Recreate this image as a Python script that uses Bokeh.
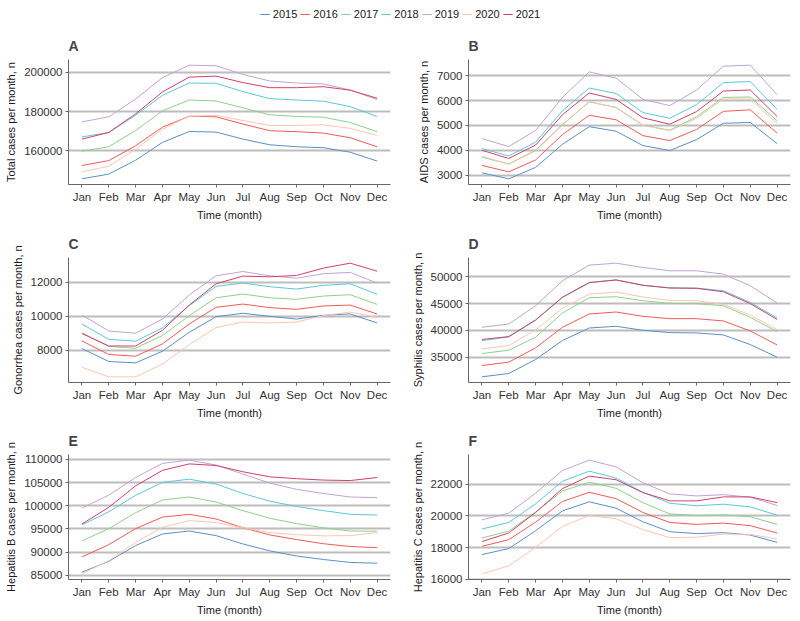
from bokeh.plotting import figure
from bokeh.models import Range1d, FactorRange, FixedTicker, BasicTickFormatter, Legend
from bokeh.layouts import column, row
from bokeh.embed import file_html
from bokeh.resources import INLINE
import numpy as np

months = ["Jan", "Feb", "Mar", "Apr", "May", "Jun", "Jul", "Aug", "Sep", "Oct", "Nov", "Dec"]
years = ["2015", "2016", "2017", "2018", "2019", "2020", "2021"]
colors = ["#5b8fc7", "#f25a55", "#8ed18a", "#5bc8d8", "#c3a3d3", "#fbc5b3", "#d2406a"]

total_cases = {
    "2015": [145600, 148000, 155100, 164200, 169800, 169500, 165900, 163000, 162000, 161500, 159200, 154700],
    "2016": [152400, 154900, 162500, 172000, 177600, 177300, 173600, 170200, 169700, 169000, 166600, 162000],
    "2017": [159700, 162000, 170300, 180300, 185900, 185400, 181900, 178300, 177500, 177100, 174400, 169700],
    "2018": [167000, 169300, 178100, 188300, 194600, 194400, 190200, 186600, 185900, 185300, 182500, 177500],
    "2019": [174700, 177300, 186400, 197300, 203700, 203400, 199000, 195600, 194600, 194100, 191000, 186100],
    "2020": [149200, 152000, 160700, 171000, 177600, 178000, 175400, 172900, 172900, 173200, 171400, 167800],
    "2021": [165900, 169300, 178800, 190000, 197600, 198100, 194800, 192200, 192200, 192700, 190900, 186800],
}
aids_cases = {
    "2015": [3090, 2850, 3310, 4240, 4950, 4770, 4190, 3990, 4430, 5090, 5120, 4270],
    "2016": [3390, 3130, 3610, 4630, 5410, 5230, 4590, 4390, 4840, 5570, 5630, 4690],
    "2017": [3720, 3450, 4000, 5040, 5950, 5730, 5010, 4810, 5350, 6130, 6150, 5190],
    "2018": [4070, 3770, 4330, 5590, 6510, 6290, 5520, 5290, 5840, 6730, 6770, 5650],
    "2019": [4470, 4150, 4800, 6130, 7160, 6910, 6050, 5800, 6430, 7390, 7430, 6240],
    "2020": [3760, 3440, 3970, 5010, 5970, 5710, 5000, 4790, 5290, 6070, 6070, 5090],
    "2021": [4000, 3670, 4210, 5430, 6310, 6050, 5310, 5050, 5560, 6390, 6430, 5360],
}
gonorrhea_cases = {
    "2015": [8100, 7340, 7260, 7940, 9050, 9970, 10170, 9990, 9830, 10050, 10130, 9600],
    "2016": [8550, 7750, 7650, 8370, 9540, 10520, 10710, 10500, 10400, 10600, 10650, 10130],
    "2017": [9030, 8220, 8120, 8860, 10030, 11080, 11300, 11080, 10990, 11180, 11260, 10690],
    "2018": [9540, 8640, 8530, 9310, 10620, 11750, 11940, 11730, 11590, 11810, 11900, 11280],
    "2019": [10070, 9130, 9000, 9830, 11240, 12370, 12620, 12370, 12230, 12490, 12570, 11940],
    "2020": [7000, 6440, 6440, 7180, 8330, 9330, 9660, 9600, 9660, 10030, 10240, 9930],
    "2021": [8980, 8250, 8250, 9170, 10650, 11900, 12350, 12310, 12390, 12820, 13110, 12640],
}
syphilis_cases = {
    "2015": [31340, 31960, 34570, 38100, 40450, 40770, 40020, 39590, 39530, 39150, 37360, 35000],
    "2016": [33450, 34070, 36740, 40580, 43060, 43430, 42620, 42190, 42190, 41760, 39900, 37290],
    "2017": [35680, 36300, 38720, 43240, 46100, 46280, 45540, 45040, 44980, 44610, 42440, 39770],
    "2018": [38100, 38780, 41880, 46220, 48950, 49440, 48450, 47950, 47890, 47400, 45230, 42310],
    "2019": [40580, 41200, 44600, 49260, 52170, 52540, 51740, 51120, 51120, 50500, 48330, 45100],
    "2020": [36550, 37170, 40080, 44110, 46780, 47150, 46220, 45600, 45540, 44860, 42870, 40140],
    "2021": [38300, 38850, 41950, 46150, 48900, 49400, 48400, 47900, 47850, 47200, 45000, 42050],
}
hepb_cases = {
    "2015": [85650, 88000, 91400, 93900, 94550, 93550, 91750, 90250, 89150, 88400, 87750, 87600],
    "2016": [88950, 91600, 95050, 97550, 98150, 97150, 95250, 93700, 92700, 91800, 91200, 90950],
    "2017": [92400, 95050, 98500, 101250, 101900, 100800, 98950, 97300, 96150, 95250, 94550, 94500],
    "2018": [95850, 98700, 102250, 105050, 105750, 104700, 102650, 101000, 99850, 98950, 98150, 98000],
    "2019": [99500, 102300, 106100, 109150, 109850, 108800, 106850, 104900, 103550, 102650, 101900, 101750],
    "2020": [85300, 88150, 92100, 95350, 96800, 96350, 95250, 94200, 93750, 93500, 93550, 94200],
    "2021": [96050, 99650, 104300, 107650, 109050, 108700, 107350, 106250, 105850, 105550, 105450, 106100],
}
hepc_cases = {
    "2015": [17560, 17940, 19060, 20310, 20880, 20480, 19620, 19000, 18880, 18940, 18790, 18330],
    "2016": [18080, 18500, 19600, 20900, 21480, 21080, 20210, 19580, 19460, 19540, 19380, 18920],
    "2017": [18600, 19040, 20230, 21560, 22120, 21730, 20830, 20120, 20020, 20060, 19940, 19460],
    "2018": [19170, 19580, 20750, 22170, 22810, 22380, 21480, 20790, 20630, 20730, 20560, 20040],
    "2019": [19750, 20170, 21420, 22850, 23500, 23080, 22080, 21380, 21250, 21330, 21170, 20650],
    "2020": [16350, 16850, 18020, 19330, 20020, 19810, 19130, 18630, 18650, 18850, 18830, 18540],
    "2021": [18380, 18920, 20210, 21710, 22500, 22270, 21460, 20940, 20940, 21190, 21190, 20830],
}

ticks_total = [160000, 180000, 200000]
ticks_aids = [3000, 4000, 5000, 6000, 7000]
ticks_gonorrhea = [8000, 10000, 12000]
ticks_syphilis = [35000, 40000, 45000, 50000]
ticks_hepb = [85000, 90000, 95000, 100000, 105000, 110000]
ticks_hepc = [16000, 18000, 20000, 22000]

FONT = "Liberation Sans"


def make_panel(letter, ylabel, series, ticks, top, bottom):
    vals = np.array([series[y] for y in years], dtype=float)
    lo, hi = vals.min(), vals.max()
    pad = (hi - lo) * 0.05
    p = figure(x_range=FactorRange(*months), y_range=Range1d(lo - pad, hi + pad),
               width=400, height=top + 125 + bottom, output_backend="svg", toolbar_location=None,
               min_border_left=68, min_border_right=10, min_border_top=top,
               min_border_bottom=bottom, title=letter)
    for yr, col in zip(years, colors):
        p.line(months, series[yr], line_color=col, line_width=1)
    p.outline_line_color = None
    p.background_fill_color = "white"
    p.xgrid.visible = False
    p.yaxis.ticker = FixedTicker(ticks=ticks)
    p.ygrid.ticker = FixedTicker(ticks=ticks)
    p.ygrid.grid_line_color = "#bdbdbd"
    p.ygrid.grid_line_width = 2
    p.yaxis.formatter = BasicTickFormatter(use_scientific=False)
    for ax in (p.xaxis[0], p.yaxis[0]):
        ax.axis_line_color = "#666666"
        ax.major_tick_line_color = "#666666"
        ax.major_tick_out = 3
        ax.major_tick_in = 0
        ax.minor_tick_line_color = None
        ax.major_label_text_font = FONT
        ax.major_label_text_font_size = "11.5px"
        ax.major_label_text_color = "#333333"
        ax.axis_label_text_font = FONT
        ax.axis_label_text_font_size = "11px"
        ax.axis_label_text_font_style = "normal"
        ax.axis_label_text_color = "#1a1a1a"
        ax.major_label_standoff = 3
        ax.axis_label_standoff = 3
    p.xaxis.axis_label = "Time (month)"
    p.yaxis.axis_label = ylabel
    p.yaxis.axis_label_standoff = 4
    p.title.text_font = FONT
    p.title.text_font_size = "14px"
    p.title.text_font_style = "bold"
    p.title.align = "left"
    p.title.standoff = 11
    return p


pa = make_panel("A", "Total cases per month, n", total_cases, ticks_total, 31, 41)
pb = make_panel("B", "AIDS cases per month, n", aids_cases, ticks_aids, 31, 41)
pc = make_panel("C", "Gonorrhea cases per month, n", gonorrhea_cases, ticks_gonorrhea, 32, 40)
pd_ = make_panel("D", "Syphilis cases per month, n", syphilis_cases, ticks_syphilis, 32, 40)
pe = make_panel("E", "Hepatitis B cases per month, n", hepb_cases, ticks_hepb, 32, 42)
pf = make_panel("F", "Hepatitis C cases per month, n", hepc_cases, ticks_hepc, 32, 42)

# legend strip: same series drawn far outside its visible y-range, only the legend shows
leg = figure(width=800, height=28, x_range=FactorRange(*months), y_range=Range1d(0, 1),
             output_backend="svg", toolbar_location=None, min_border=0)
leg.xaxis.visible = False
leg.yaxis.visible = False
leg.grid.visible = False
leg.outline_line_color = None
items = []
for yr, col in zip(years, colors):
    r = leg.line(months, total_cases[yr], line_color=col, line_width=1)
    items.append((yr, [r]))
legend = Legend(items=items, orientation="horizontal", location="center",
                glyph_width=10, glyph_height=12, label_height=12, label_standoff=3,
                spacing=3, padding=0, margin=0, border_line_color=None,
                background_fill_alpha=0, label_text_font=FONT, label_text_font_size="11px",
                label_text_color="#222222")
leg.add_layout(legend, "center")

layout = column(leg, row(pa, pb), row(pc, pd_), row(pe, pf))

open("out.html", "w").write(file_html(layout, INLINE))
